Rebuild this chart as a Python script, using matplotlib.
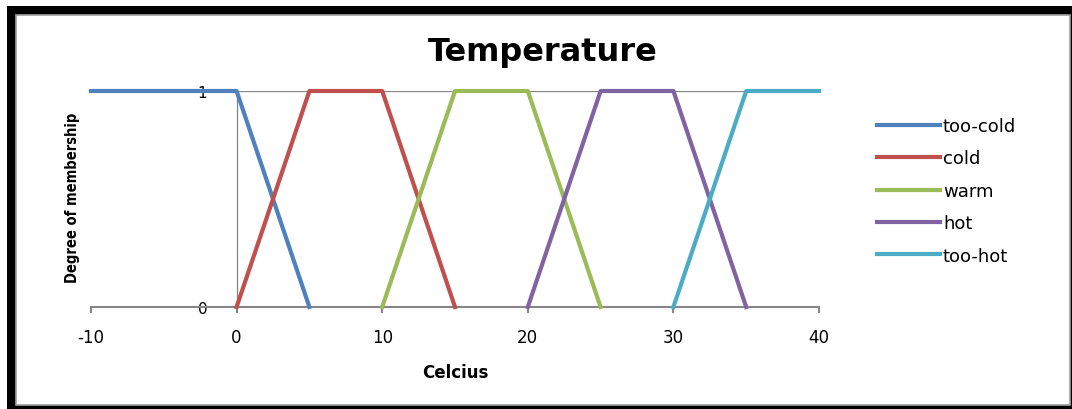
import matplotlib
matplotlib.use("Agg")
import matplotlib.pyplot as plt
from matplotlib.patches import Rectangle

W, H = 1072, 410

series_names = ["too-cold", "cold", "warm", "hot", "too-hot"]
too_cold_x = [-10, 0, 5]
too_cold_y = [1, 1, 0]
cold_x = [0, 5, 10, 15]
cold_y = [0, 1, 1, 0]
warm_x = [10, 15, 20, 25]
warm_y = [0, 1, 1, 0]
hot_x = [20, 25, 30, 35]
hot_y = [0, 1, 1, 0]
too_hot_x = [30, 35, 40]
too_hot_y = [0, 1, 1]
colors = ["#4F81BD", "#C0504D", "#9BBB59", "#8064A2", "#4BACC6"]
x_ticks = [-10, 0, 10, 20, 30, 40]
y_ticks = [0, 1]

fig = plt.figure(figsize=(W / 100, H / 100), dpi=100)

# frame
fig.patches.append(Rectangle((7 / W, 0), 1 - 7 / W + 0.01, (H - 7) / H,
                             transform=fig.transFigure, facecolor="black",
                             edgecolor="none", zorder=-3))
fig.patches.append(Rectangle((15.5 / W, 4.5 / H), (1069.5 - 15.5) / W, (405.5 - 15.5) / H,
                             transform=fig.transFigure, facecolor="white",
                             edgecolor="#A0A0A0", linewidth=1.2, zorder=-2))

ax = fig.add_axes([91 / W, (H - 308) / H, (819 - 91) / W, (308 - 92) / H])
ax.set_zorder(2)
ax.set_facecolor("none")

xs = [too_cold_x, cold_x, warm_x, hot_x, too_hot_x]
ys = [too_cold_y, cold_y, warm_y, hot_y, too_hot_y]
for x, y, c, n in zip(xs, ys, colors, series_names):
    ax.plot(x, y, color=c, lw=3.0, label=n, solid_joinstyle="round", zorder=3,
            clip_on=False)

ax.set_xlim(-10, 40)
ax.set_ylim(0, 1)
ax.axhline(1, color="#868686", lw=0.9, zorder=1)

for s in ["top", "right"]:
    ax.spines[s].set_visible(False)
ax.spines["left"].set_position(("data", 0))
ax.spines["left"].set_color("#868686")
ax.spines["left"].set_linewidth(0.9)
ax.spines["bottom"].set_color("#868686")
ax.spines["bottom"].set_linewidth(1.5)

ax.set_xticks(x_ticks)
ax.set_xticklabels([str(t) for t in x_ticks])
ax.set_yticks(y_ticks)
ax.set_yticklabels([str(t) for t in y_ticks])
ax.tick_params(axis="x", direction="out", length=4, width=1.5, color="#868686",
               pad=11, labelsize=12)
ax.tick_params(axis="y", length=0, pad=21, labelsize=11)

fig.text(543 / W, 1 - 61 / H, "Temperature", ha="center", va="baseline",
         fontsize=23, fontweight="bold")
fig.text(455 / W, 1 - 378 / H, "Celcius", ha="center", va="baseline",
         fontsize=12, fontweight="bold")
fig.text(73 / W, 1 - 198 / H, "Degree of membership", ha="center", va="center",
         rotation=90, fontsize=10.5, fontweight="bold", fontstretch="condensed")

leg = fig.legend(loc="upper left", bbox_to_anchor=(877 / W, 1 - 118 / H),
                 frameon=False, fontsize=13, handlelength=3.5, handletextpad=0.15,
                 labelspacing=0.8, borderpad=0, borderaxespad=0)

fig.savefig("out.png", dpi=100)
